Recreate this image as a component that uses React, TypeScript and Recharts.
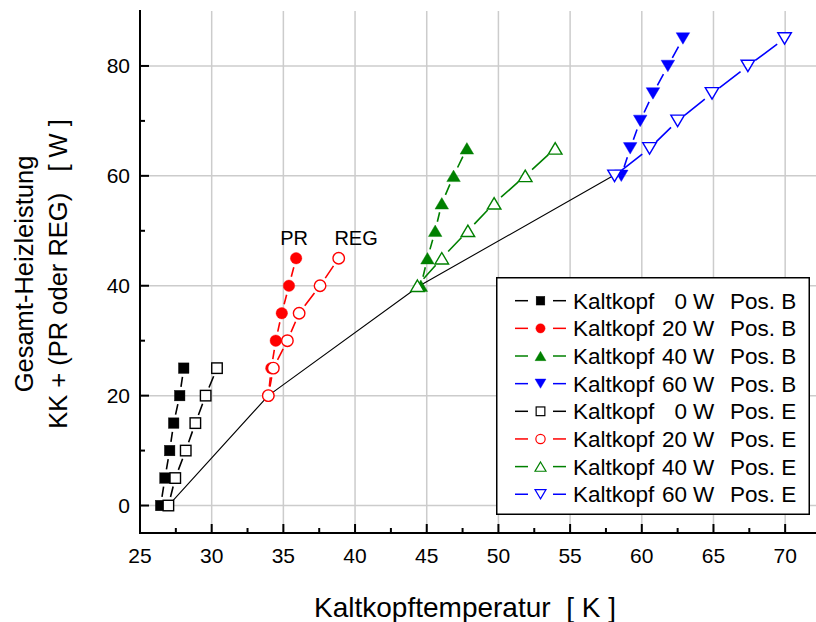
import React from 'react';
import {
  ScatterChart,
  Scatter,
  XAxis,
  YAxis,
  CartesianGrid,
  Legend,
  ReferenceDot,
} from 'recharts';

// Total heating power steps [W]
const powerKK0 = [0, 5, 10, 15, 20, 25];
const powerKK20 = [20, 25, 30, 35, 40, 45];
const powerKK40 = [40, 45, 50, 55, 60, 65];
const powerKK60 = [60, 65, 70, 75, 80, 85];

// Cold head temperature [K], heater position B
const tempKK0B = [26.44, 26.74, 27.07, 27.35, 27.77, 28.05];
const tempKK20B = [33.95, 34.16, 34.47, 34.89, 35.39, 35.89];
const tempKK40B = [44.59, 45.05, 45.59, 46.05, 46.87, 47.8];
const tempKK60B = [58.57, 59.19, 59.89, 60.78, 61.82, 62.87];

// Cold head temperature [K], heater position E
const tempKK0E = [26.98, 27.46, 28.19, 28.86, 29.58, 30.37];
const tempKK20E = [33.95, 34.3, 35.28, 36.1, 37.56, 38.86];
const tempKK40E = [44.35, 46.05, 47.87, 49.7, 51.87, 53.96];
const tempKK60E = [58.1, 60.54, 62.5, 64.9, 67.4, 69.96];

// Curve through the starting points (cold head load only)
const startPower = [0, 20, 40, 60];
const startTemp = [26.98, 33.95, 44.5, 58.0];

// Axis ticks
const xTicks = [25, 27.5, 30, 32.5, 35, 37.5, 40, 42.5, 45, 47.5, 50, 52.5, 55, 57.5, 60, 62.5, 65, 67.5, 70];
const xMajor = [25, 30, 35, 40, 45, 50, 55, 60, 65, 70];
const yTicks = [0, 10, 20, 30, 40, 50, 60, 70, 80];
const yMajor = [0, 20, 40, 60, 80];

const FONT = '"Liberation Sans", Arial, Helvetica, sans-serif';

type Kind = 'square' | 'circle' | 'up' | 'down';

interface SeriesDef {
  key: string;
  watt: string;
  pos: string;
  color: string;
  kind: Kind;
  filled: boolean;
  temps: number[];
  power: number[];
}

const SERIES: SeriesDef[] = [
  { key: 'kk0B', watt: '0', pos: 'B', color: '#000000', kind: 'square', filled: true, temps: tempKK0B, power: powerKK0 },
  { key: 'kk20B', watt: '20', pos: 'B', color: '#ff0000', kind: 'circle', filled: true, temps: tempKK20B, power: powerKK20 },
  { key: 'kk40B', watt: '40', pos: 'B', color: '#008000', kind: 'up', filled: true, temps: tempKK40B, power: powerKK40 },
  { key: 'kk60B', watt: '60', pos: 'B', color: '#0000ff', kind: 'down', filled: true, temps: tempKK60B, power: powerKK60 },
  { key: 'kk0E', watt: '0', pos: 'E', color: '#000000', kind: 'square', filled: false, temps: tempKK0E, power: powerKK0 },
  { key: 'kk20E', watt: '20', pos: 'E', color: '#ff0000', kind: 'circle', filled: false, temps: tempKK20E, power: powerKK20 },
  { key: 'kk40E', watt: '40', pos: 'E', color: '#008000', kind: 'up', filled: false, temps: tempKK40E, power: powerKK40 },
  { key: 'kk60E', watt: '60', pos: 'E', color: '#0000ff', kind: 'down', filled: false, temps: tempKK60E, power: powerKK60 },
];

const toPoints = (temps: number[], power: number[]) =>
  temps.map((t, i) => ({ x: t, y: power[i] }));

// Symbol glyph used in the plot and in the legend
function Glyph(props: {
  kind: Kind;
  filled: boolean;
  color: string;
  cx: number;
  cy: number;
  size: number;
  sw: number;
}) {
  const { kind, filled, color, cx, cy, size, sw } = props;
  const fill = filled ? color : '#ffffff';
  const strokeWidth = filled ? 0.4 : sw;
  const h = size / 2;
  if (kind === 'square') {
    return <rect x={cx - h} y={cy - h} width={size} height={size} fill={fill} stroke={color} strokeWidth={strokeWidth} />;
  }
  if (kind === 'circle') {
    return <circle cx={cx} cy={cy} r={h} fill={fill} stroke={color} strokeWidth={strokeWidth} />;
  }
  const w = h * 1.18;
  const pts =
    kind === 'up'
      ? `${cx},${cy - h} ${cx + w},${cy + h} ${cx - w},${cy + h}`
      : `${cx},${cy + h} ${cx + w},${cy - h} ${cx - w},${cy - h}`;
  return <polygon points={pts} fill={fill} stroke={color} strokeWidth={strokeWidth} strokeLinejoin="miter" />;
}

// Connecting line that leaves a small gap around each symbol
function gappedPath(points: { x: number; y: number }[], gap: number) {
  let d = '';
  for (let i = 0; i < points.length - 1; i++) {
    const a = points[i];
    const b = points[i + 1];
    const dx = b.x - a.x;
    const dy = b.y - a.y;
    const len = Math.hypot(dx, dy);
    if (len <= 2 * gap + 1) continue;
    const ux = dx / len;
    const uy = dy / len;
    d += `M${a.x + ux * gap},${a.y + uy * gap}L${b.x - ux * gap},${b.y - uy * gap}`;
  }
  return d;
}

const plotSize = (kind: Kind) => (kind === 'square' ? 10.5 : kind === 'circle' ? 11.5 : 11.5);

// ---- axis ticks (drawn inward) ----
const TickBottom = (p: any) => {
  const { x, y, payload } = p;
  const major = xMajor.includes(payload.value);
  return (
    <g>
      <line x1={x} y1={y} x2={x} y2={y - (major ? 9 : 5)} stroke="#000" strokeWidth={2} />
      {major && (
        <text x={x} y={y + 30} textAnchor="middle" fontFamily={FONT} fontSize={21} fill="#000">
          {payload.value}
        </text>
      )}
    </g>
  );
};

const TickTop = (p: any) => {
  const { x, y, payload } = p;
  const major = xMajor.includes(payload.value);
  return <line x1={x} y1={y} x2={x} y2={y + (major ? 9 : 5)} stroke="#000" strokeWidth={2} />;
};

const TickLeft = (p: any) => {
  const { x, y, payload } = p;
  const major = yMajor.includes(payload.value);
  return (
    <g>
      <line x1={x} y1={y} x2={x + (major ? 9 : 5)} y2={y} stroke="#000" strokeWidth={2} />
      {major && (
        <text x={x - 10} y={y + 7.5} textAnchor="end" fontFamily={FONT} fontSize={21} fill="#000">
          {payload.value}
        </text>
      )}
    </g>
  );
};

const TickRight = (p: any) => {
  const { x, y, payload } = p;
  const major = yMajor.includes(payload.value);
  return <line x1={x} y1={y} x2={x - (major ? 9 : 5)} y2={y} stroke="#000" strokeWidth={2} />;
};

// ---- axis titles ----
const YTitle = (p: any) => {
  const vb = p.viewBox || { x: 0, y: 11, width: 140, height: 522 };
  const cy = vb.y + vb.height / 2 + 2;
  return (
    <g fontFamily={FONT} fontSize={25.5} fill="#000">
      <text transform={`translate(33, ${cy}) rotate(-90)`} textAnchor="middle">
        Gesamt-Heizleistung
      </text>
      <text transform={`translate(67, ${cy}) rotate(-90)`} textAnchor="middle" style={{ whiteSpace: 'pre' }}>
        {'KK + (PR oder REG)   [ W ]'}
      </text>
    </g>
  );
};

const XTitle = (p: any) => {
  const vb = p.viewBox || { x: 140, y: 533, width: 681, height: 89 };
  return (
    <text
      x={465}
      y={vb.y + 84}
      textAnchor="middle"
      fontFamily={FONT}
      fontSize={28}
      fill="#000"
      style={{ whiteSpace: 'pre' }}
    >
      {'Kaltkopftemperatur  [ K ]'}
    </text>
  );
};

// ---- legend ----
const LegendBox = () => {
  const rowY = (i: number) => 23.7 + 27.65 * i;
  return (
    <svg width={314} height={238} style={{ display: 'block' }}>
      <rect x={0.75} y={0.75} width={312.5} height={236.5} fill="#ffffff" stroke="#000" strokeWidth={1.5} />
      {SERIES.map((s, i) => {
        const cy = rowY(i);
        const by = cy + 8;
        return (
          <g key={s.key}>
            <line x1={19} y1={cy} x2={32} y2={cy} stroke={s.color} strokeWidth={1.5} />
            <line x1={57} y1={cy} x2={70} y2={cy} stroke={s.color} strokeWidth={1.5} />
            <Glyph kind={s.kind} filled={s.filled} color={s.color} cx={44.5} cy={cy} size={s.kind === 'square' ? 8.7 : 9.3} sw={1.2} />
            <g fontFamily={FONT} fontSize={22.5} fill="#000">
              <text x={77} y={by}>Kaltkopf</text>
              <text x={191} y={by} textAnchor="end">{s.watt}</text>
              <text x={197} y={by}>W</text>
              <text x={234} y={by}>{`Pos. ${s.pos}`}</text>
            </g>
          </g>
        );
      })}
    </svg>
  );
};

export default function App() {
  return (
    <div
      style={{
        position: 'absolute',
        left: 0,
        top: 0,
        width: 816,
        height: 622,
        overflow: 'hidden',
        background: '#ffffff',
      }}
    >
      <ScatterChart width={830} height={622} margin={{ top: 11, right: 9, bottom: 0, left: 0 }}>
        <CartesianGrid
          stroke="#cccccc"
          strokeWidth={1.5}
          verticalValues={xMajor}
          horizontalValues={yMajor}
        />
        <XAxis
          xAxisId={0}
          type="number"
          dataKey="x"
          domain={[25, 72.5]}
          allowDataOverflow
          ticks={xTicks}
          interval={0}
          height={89}
          tickSize={0}
          tickMargin={0}
          tickLine={false}
          tick={TickBottom}
          axisLine={{ stroke: '#000', strokeWidth: 2, strokeLinecap: 'square' }}
          label={<XTitle />}
        />
        <XAxis
          xAxisId="top"
          orientation="top"
          type="number"
          dataKey="x"
          domain={[25, 72.5]}
          allowDataOverflow
          ticks={xTicks}
          interval={0}
          height={0}
          tickSize={0}
          tickMargin={0}
          tickLine={false}
          tick={TickTop}
          axisLine={{ stroke: '#000', strokeWidth: 2, strokeLinecap: 'square' }}
        />
        <YAxis
          yAxisId={0}
          type="number"
          dataKey="y"
          domain={[-5, 90]}
          allowDataOverflow
          ticks={yTicks}
          interval={0}
          width={140}
          tickSize={0}
          tickMargin={0}
          tickLine={false}
          tick={TickLeft}
          axisLine={{ stroke: '#000', strokeWidth: 2, strokeLinecap: 'square' }}
          label={<YTitle />}
        />
        <YAxis
          yAxisId="right"
          orientation="right"
          type="number"
          dataKey="y"
          domain={[-5, 90]}
          allowDataOverflow
          ticks={yTicks}
          interval={0}
          width={0}
          tickSize={0}
          tickMargin={0}
          tickLine={false}
          tick={TickRight}
          axisLine={{ stroke: '#000', strokeWidth: 2 }}
        />

        {/* Start-point curve */}
        <Scatter
          name="Startpunkte"
          data={toPoints(startTemp, startPower)}
          isAnimationActive={false}
          legendType="none"
          lineType="joint"
          line={(lp: any) => (
            <path
              d={(lp.points || []).map((pt: any, i: number) => `${i ? 'L' : 'M'}${pt.x},${pt.y}`).join('')}
              stroke="#000"
              strokeWidth={1.1}
              fill="none"
            />
          )}
          shape={() => <g />}
        />

        {SERIES.map((s) => {
          const size = plotSize(s.kind);
          const gap = size / 2 + 3.5;
          return (
            <Scatter
              key={s.key}
              name={`Kaltkopf ${s.watt} W Pos. ${s.pos}`}
              data={toPoints(s.temps, s.power)}
              isAnimationActive={false}
              lineType="joint"
              line={(lp: any) => (
                <path d={gappedPath(lp.points || [], gap)} stroke={s.color} strokeWidth={1.6} fill="none" />
              )}
              shape={(sp: any) => (
                <Glyph kind={s.kind} filled={s.filled} color={s.color} cx={sp.cx} cy={sp.cy} size={size} sw={1.4} />
              )}
            />
          );
        })}

        <ReferenceDot
          x={35.75}
          y={48.7}
          r={0}
          fill="none"
          stroke="none"
          label={{ value: 'PR', position: 'center', fontSize: 20, fill: '#000', fontFamily: FONT }}
        />
        <ReferenceDot
          x={40.07}
          y={48.7}
          r={0}
          fill="none"
          stroke="none"
          label={{ value: 'REG', position: 'center', fontSize: 20, fill: '#000', fontFamily: FONT }}
        />

        <Legend
          layout="vertical"
          verticalAlign="middle"
          align="center"
          wrapperStyle={{ left: 496, top: 277, width: 314, height: 238, right: 'auto', bottom: 'auto' }}
          content={() => <LegendBox />}
        />
      </ScatterChart>
    </div>
  );
}
